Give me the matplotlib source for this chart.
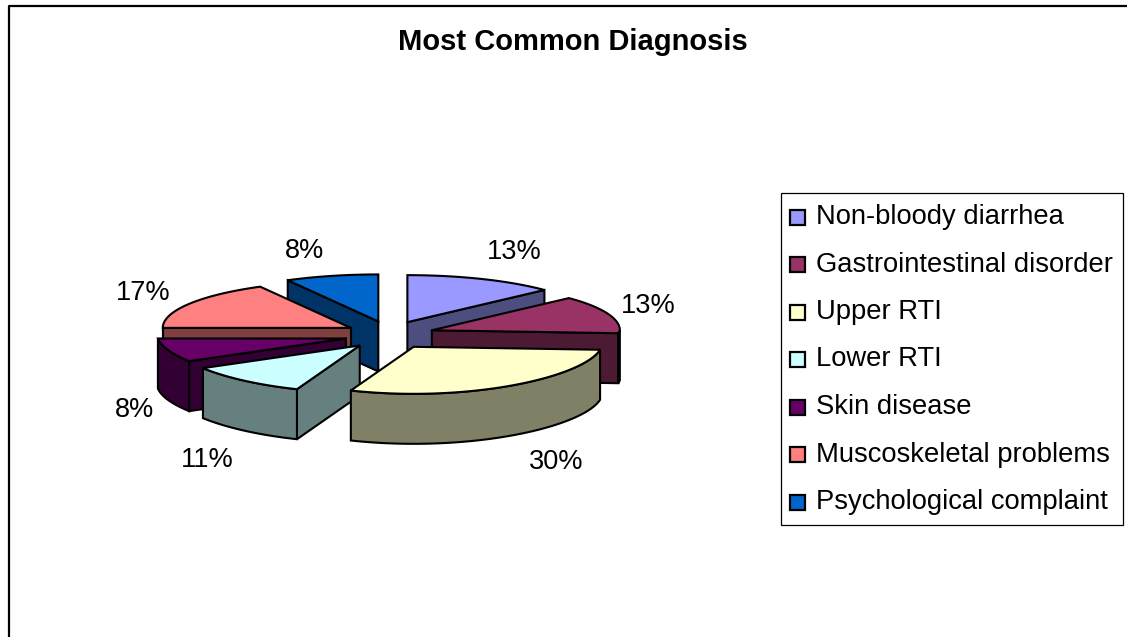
import matplotlib
import numpy as np

matplotlib.use("Agg")
import matplotlib.pyplot as plt  # noqa: E402
from matplotlib.patches import Polygon, Rectangle  # noqa: E402

W, H = 1127, 637

categories = [
    "Non-bloody diarrhea",
    "Gastrointestinal disorder",
    "Upper RTI",
    "Lower RTI",
    "Skin disease",
    "Muscoskeletal problems",
    "Psychological complaint",
]
values = [13, 13, 30, 11, 8, 17, 8]
colors = ["#9999FF", "#993366", "#FFFFCC", "#CCFFFF", "#660066", "#FF8080", "#0066CC"]
label_xy = [(514, 252), (648, 306), (556, 462), (207, 460), (135, 410), (143, 293), (305, 251)]

plt.rcParams["font.family"] = ["Liberation Sans", "DejaVu Sans"]

CX, CY = 389.5, 335
RX, RY = 188, 47
DEPTH = 50
EXPLODE_X, EXPLODE_Y = 45, 14
LW = 1.5


def darker(c, k=0.5):
    return tuple(v * k for v in matplotlib.colors.to_rgb(c))


def rim(a0, a1, ox, oy):
    # front of the pie is a bit narrower than the sides, as in the original's perspective
    t = np.radians(np.linspace(a0, a1, 80))
    squeeze = 1 - 0.1 * np.clip(-np.cos(t), 0, 1)
    return ox + RX * squeeze * np.sin(t), oy - RY * np.cos(t)


def face_visible(ox, oy, ex, ey, mx, my):
    # a cut face shows when the top of the slice lies above that edge on screen
    if abs(ex - ox) < 1:
        return False
    return my < oy + (ey - oy) * (mx - ox) / (ex - ox)


fig = plt.figure(figsize=(W / 100, H / 100), dpi=100)
ax = fig.add_axes([0, 0, 1, 1])
ax.set_xlim(0, W)
ax.set_ylim(H, 0)
ax.axis("off")

# frame: only left and top show in the crop
ax.plot([8.5, 8.5, W + 2], [H + 2, 5.5, 5.5], color="black", lw=1.6)
ax.text(573, 42, "Most Common Diagnosis", ha="center", va="center", fontsize=21, fontweight="bold")

edges = np.cumsum([0] + values) * 3.6
slices = []
for i in range(len(values)):
    a0, a1 = edges[i], edges[i + 1]
    mid = np.radians((a0 + a1) / 2)
    slices.append((i, a0, a1, CX + EXPLODE_X * np.sin(mid), CY - EXPLODE_Y * np.cos(mid)))

# back slices first so the front ones overlap them
for i, a0, a1, ox, oy in sorted(slices, key=lambda s: s[4]):
    x, y = rim(a0, a1, ox, oy)
    style = dict(fc=darker(colors[i]), ec="black", lw=LW)
    for ex, ey in ((x[0], y[0]), (x[-1], y[-1])):
        if face_visible(ox, oy, ex, ey, x[40], y[40]):
            ax.add_patch(Polygon([(ox, oy), (ex, ey), (ex, ey + DEPTH), (ox, oy + DEPTH)], **style))
    # outer wall, only the part facing the viewer
    t = np.linspace(a0, a1, 80)
    front = (t >= 90) & (t <= 270)
    if front.any():
        fx, fy = x[front], y[front]
        ax.add_patch(Polygon(np.r_[np.c_[fx, fy], np.c_[fx, fy + DEPTH][::-1]], **style))
    ax.add_patch(Polygon(np.r_[[(ox, oy)], np.c_[x, y]], fc=colors[i], ec="black", lw=LW))

for (lx, ly), v in zip(label_xy, values):
    ax.text(lx, ly, f"{v}%", ha="center", va="center", fontsize=19.5)

# legend box
ax.add_patch(Rectangle((780.5, 192.5), 342, 332, fc="white", ec="black", lw=0.9))
for k, (name, c) in enumerate(zip(categories, colors)):
    y = 217 + k * 47.5
    ax.add_patch(Rectangle((790, y - 7.5), 15, 15, fc=c, ec="black", lw=1.6))
    ax.text(816, y, name, ha="left", va="center", fontsize=19.7)

fig.savefig("out.png", dpi=100, facecolor="white")
